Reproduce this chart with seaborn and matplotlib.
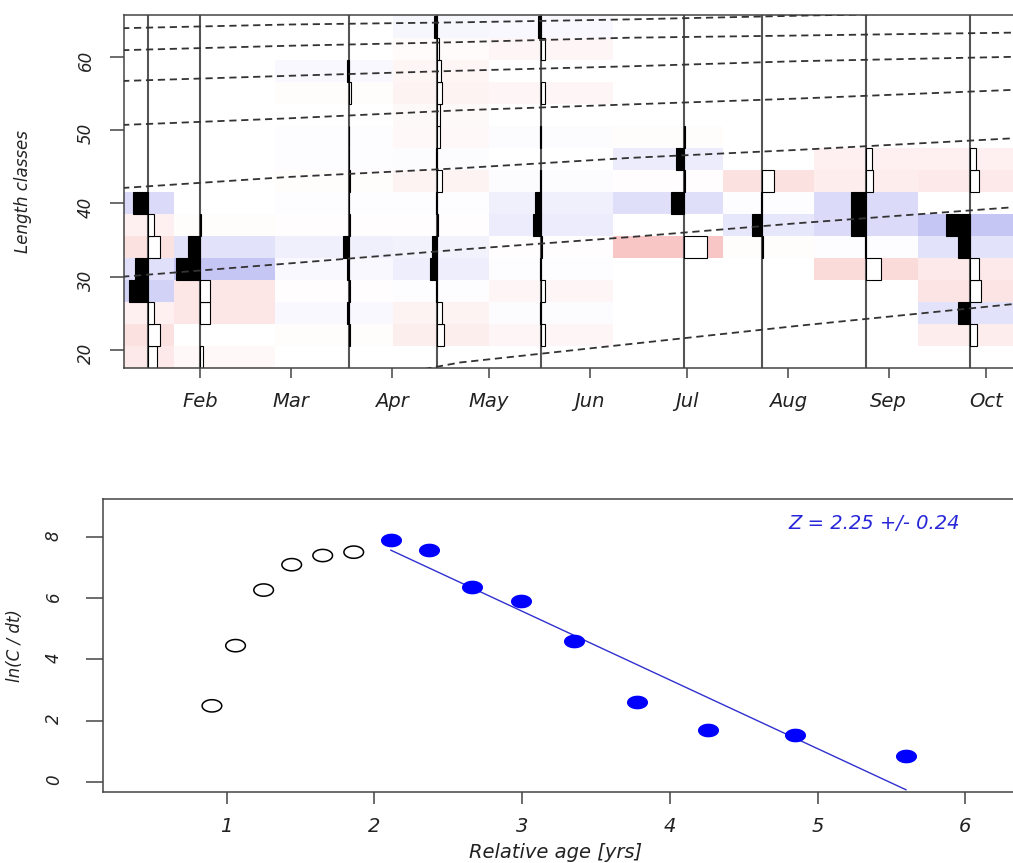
import numpy as np
import pandas as pd
import matplotlib
matplotlib.use("Agg")
import matplotlib.pyplot as plt
import matplotlib.dates as mdates
from matplotlib.colors import LinearSegmentedColormap
from matplotlib.markers import MarkerStyle
from matplotlib.path import Path
import seaborn as sns

# ---- length-frequency data (restructured scores, >0 = peak) ----
length_mids = [19, 22, 25, 28, 31, 34, 37, 40, 43, 46, 49, 52, 55, 58, 61, 64]
sample_dates = ["2017-01-16", "2017-02-01", "2017-03-19", "2017-04-15", "2017-05-17",
                "2017-06-30", "2017-07-24", "2017-08-25", "2017-09-26"]
score_jan16 = [-0.37, -0.50, -0.25, 0.79, 0.54, -0.50, -0.25, 0.62, 0, 0, 0, 0, 0, 0, 0, 0]
score_feb01 = [-0.12, 0, -0.42, -0.42, 1.00, 0.50, -0.05, 0, 0, 0, 0, 0, 0, 0, 0, 0]
score_mar19 = [0, -0.04, 0.12, -0.03, 0.12, 0.25, -0.03, 0.03, -0.04, 0.04, 0.04, 0, -0.05, 0.12, 0, 0]
score_apr15 = [0, -0.28, -0.20, 0.03, 0.30, 0.22, -0.03, 0.04, -0.20, 0.05, -0.12, -0.10, -0.20, -0.17, -0.06, 0.15]
score_may17 = [0, -0.15, 0.05, -0.15, 0.04, -0.03, 0.33, 0.25, 0.05, 0, 0.05, 0, -0.15, 0, -0.15, 0.12]
score_jun30 = [0, 0, 0, 0, 0, -0.95, 0, 0.55, -0.03, 0.33, -0.05, 0, 0, 0, 0, 0]
score_jul24 = [0, 0, 0, 0, 0, -0.05, 0.42, 0.03, -0.50, 0, 0, 0, 0, 0, 0, 0]
score_aug25 = [0, 0, 0, 0, -0.62, 0.03, 0.62, 0.62, -0.30, -0.25, 0, 0, 0, 0, 0, 0]
score_sep26 = [0, -0.30, 0.50, -0.45, -0.37, 0.50, 1.00, 0, -0.37, -0.25, 0, 0, 0, 0, 0, 0]

# growth curves (cohorts)
curve_dates = ["2017-01-08", "2017-02-28", "2017-04-22", "2017-06-13", "2017-08-04", "2017-10-10"]
cohort_a = [63.9, 64.4, 64.7, 65.1, 65.6, 66.2]
cohort_b = [60.9, 61.5, 62.0, 62.6, 62.9, 63.3]
cohort_c = [56.7, 57.4, 58.1, 58.7, 59.4, 60.0]
cohort_d = [50.7, 51.6, 52.7, 53.5, 54.3, 55.5]
cohort_e = [42.1, 43.6, 44.8, 46.2, 47.3, 48.9]
cohort_f = [30.0, 31.8, 33.7, 35.4, 37.3, 39.5]
cohort_g_dates = ["2017-04-11", "2017-04-22", "2017-06-13", "2017-08-04", "2017-10-10"]
cohort_g = [17.4, 18.3, 20.8, 23.3, 26.3]

# ---- catch curve ----
rel_age = [0.90, 1.06, 1.25, 1.44, 1.65, 1.86, 2.11, 2.37, 2.66, 2.99, 3.35, 3.78, 4.26, 4.85, 5.60]
ln_c_dt = [2.48, 4.45, 6.27, 7.10, 7.40, 7.51, 7.91, 7.58, 6.38, 5.91, 4.61, 2.59, 1.69, 1.51, 0.83]
in_regression = [False] * 6 + [True] * 9
z_label = "Z = 2.25 +/- 0.24"

sns.set_theme(style="ticks")
plt.rcParams["font.family"] = ["DejaVu Sans"]
plt.rcParams["font.style"] = "italic"
plt.rcParams["axes.edgecolor"] = "#444444"
plt.rcParams["axes.linewidth"] = 1.1

fig = plt.figure(figsize=(10.13, 8.63), dpi=100)
W, H = 1013, 863
ax1 = fig.add_axes([124 / W, 1 - 368 / H, 889 / W, 353 / H])
ax2 = fig.add_axes([103 / W, 1 - 792.3 / H, 910 / W, 293.3 / H])

# --- top: restructured LFQ ---
dates = mdates.date2num(pd.to_datetime(sample_dates))
scores = np.column_stack([score_jan16, score_feb01, score_mar19, score_apr15, score_may17,
                          score_jun30, score_jul24, score_aug25, score_sep26])
mids = np.array(length_mids, dtype=float)
bw = mids[1] - mids[0]
y_edges = np.append(mids - bw / 2, mids[-1] + bw / 2)
x_edges = np.concatenate([[dates[0] - (dates[1] - dates[0]) / 2],
                          (dates[:-1] + dates[1:]) / 2,
                          [dates[-1] + (dates[-1] - dates[-2]) / 2]])
cmap = LinearSegmentedColormap.from_list("rs", ["#f9c3c3", "white", "#c6c6f5"])
ax1.pcolormesh(x_edges, y_edges, scores, cmap=cmap, vmin=-1, vmax=1, zorder=0)

for d in dates:
    ax1.axvline(d, color="#555555", lw=1.5, zorder=1)

bar_scale = 7.4  # days for a score of 1
for j, d in enumerate(dates):
    v = scores[:, j]
    keep = v != 0
    ax1.barh(mids[keep], -v[keep] * bar_scale, left=d, height=bw,
             color=["black" if s > 0 else "white" for s in v[keep]],
             edgecolor="black", linewidth=0.8, zorder=2)

cd = mdates.date2num(pd.to_datetime(curve_dates))
for lens in [cohort_a, cohort_b, cohort_c, cohort_d, cohort_e, cohort_f]:
    ax1.plot(cd, lens, color="#333333", lw=1.3, ls=(0, (4, 2.6)), zorder=3)
ax1.plot(mdates.date2num(pd.to_datetime(cohort_g_dates)), cohort_g,
         color="#333333", lw=1.3, ls=(0, (4, 2.6)), zorder=3)

ax1.set_xlim(mdates.date2num(pd.Timestamp("2017-01-08 14:00")),
             mdates.date2num(pd.Timestamp("2017-10-09 07:00")))
ax1.set_ylim(17.55, 65.7)
ax1.xaxis.set_major_locator(mdates.MonthLocator())
ax1.xaxis.set_major_formatter(mdates.DateFormatter("%b"))
ax1.set_yticks([20, 30, 40, 50, 60])
ax1.tick_params(axis="x", length=7, width=1.1, pad=10, labelsize=14, color="#444444", labelcolor="#222222")
ax1.tick_params(axis="y", length=10, width=1.1, pad=11, labelsize=12, labelrotation=90,
                color="#444444", labelcolor="#222222")
ax1.set_ylabel("Length classes", fontsize=12, color="#222222")
ax1.yaxis.set_label_coords((23 - 124) / 889, 0.5)
ax1.yaxis.label.set_va("center")
ax1.spines["right"].set_visible(False)

# --- bottom: catch curve ---
t = np.linspace(0, 2 * np.pi, 60)
ell = MarkerStyle(Path(np.column_stack([1.6 * np.cos(t), np.sin(t)]), closed=True))
catch = pd.DataFrame({"age": rel_age, "lnc": ln_c_dt, "used": in_regression})
sns.scatterplot(data=catch[~catch["used"]], x="age", y="lnc", marker=ell, s=200,
                color="black", facecolor="none", edgecolor="black", linewidth=1.1, ax=ax2, zorder=3)
sns.scatterplot(data=catch[catch["used"]], x="age", y="lnc", marker=ell, s=200,
                color="#0000ff", edgecolor="#0000ff", linewidth=1.0, ax=ax2, zorder=3)
sns.regplot(data=catch[catch["used"]], x="age", y="lnc", scatter=False, ci=None, truncate=True,
            line_kws=dict(color="#3030d0", lw=1.0), ax=ax2)
ax2.text(0.847, 0.918, z_label, transform=ax2.transAxes, color="#2727d9",
         ha="center", va="center", fontsize=14)

ax2.set_xlim(0.1626, 6.323)
ax2.set_ylim(-0.35, 9.25)
ax2.set_xticks([1, 2, 3, 4, 5, 6])
ax2.set_yticks([0, 2, 4, 6, 8])
ax2.tick_params(axis="x", length=8.6, width=1.1, pad=9, labelsize=14, color="#444444", labelcolor="#222222")
ax2.tick_params(axis="y", length=12, width=1.1, pad=17, labelsize=12, labelrotation=90,
                color="#444444", labelcolor="#222222")
ax2.set_xlabel("Relative age [yrs]", fontsize=14, color="#222222")
ax2.xaxis.set_label_coords(0.497, (792.3 - 852) / 293.3)
ax2.xaxis.label.set_va("center")
ax2.set_ylabel("ln(C / dt)", fontsize=12, color="#222222")
ax2.yaxis.set_label_coords((15.5 - 103) / 910, 0.5)
ax2.yaxis.label.set_va("center")
ax2.spines["right"].set_visible(False)

fig.savefig("out.png", dpi=100)
